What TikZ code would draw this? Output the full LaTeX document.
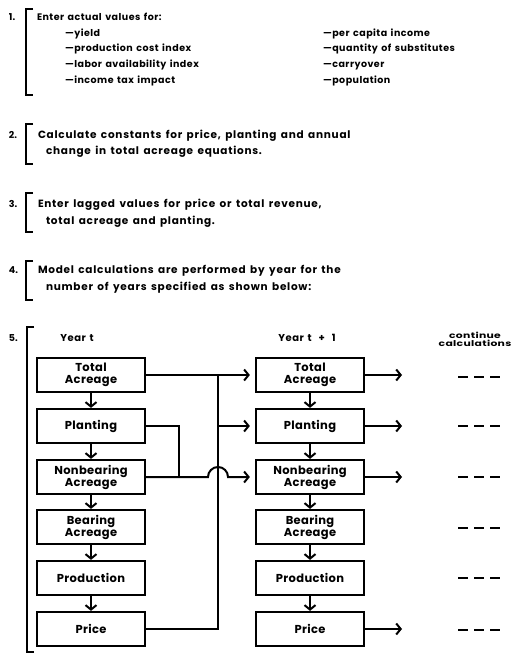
\documentclass[tikz,border=0pt]{standalone}
\usepackage{fontspec}
\setmainfont{Poppins}
\newfontfamily\reffont{Poppins}[LetterSpace=5,WordSpace=1.4]
\newfontfamily\stepfont{Poppins}[LetterSpace=7,WordSpace=1.5]
\newfontfamily\boxfont{Poppins}[LetterSpace=3]
\newfontfamily\widefont{Poppins}[FakeStretch=1.35,LetterSpace=4]
\usetikzlibrary{arrows.meta}
\begin{document}
\begin{tikzpicture}[x=1pt,y=-1pt,line width=2pt,
  box/.style={draw,line width=2.2pt,minimum width=108pt,minimum height=34pt,inner sep=0pt,align=center,font=\boxfont\bfseries\fontsize{11.5}{12}\selectfont},
  arr/.style={-{Straight Barb[length=4.5pt,width=11pt]}},
  txta/.style={anchor=base west,inner sep=0pt,font=\reffont\bfseries\fontsize{9.5}{11}\selectfont},
  txt/.style={anchor=base west,inner sep=0pt,font=\stepfont\bfseries\fontsize{10.5}{11}\selectfont},
  num/.style={anchor=base west,inner sep=0pt,font=\bfseries\fontsize{9.5}{11}\selectfont},
  yr/.style={inner sep=0pt,font=\reffont\bfseries\fontsize{10}{11}\selectfont},
  brk/.style={line width=1.8pt,line join=miter},
  dashln/.style={line width=2.5pt,dash pattern=on 10pt off 6pt}
]
\useasboundingbox (0,0) rectangle (512,655);
% ---- step 1
\node[num] (n1) at (8,20.5) {1.};
\draw[brk] (33,9) -- (26,9) -- (26,95) -- (33,95);
\node[txta] (t1a) at (36,20.5) {Enter actual values for:};
\node[txta] (t1b) at (64,36.5) {\textemdash yield};
\node[txta] (t1c) at (64,52) {\textemdash production cost index};
\node[txta] (t1d) at (64,68) {\textemdash labor availability index};
\node[txta] (t1e) at (64,83.5) {\textemdash income tax impact};
\node[txta] (t1f) at (322,36.5) {\textemdash per capita income};
\node[txta] (t1g) at (322,52) {\textemdash quantity of substitutes};
\node[txta] (t1h) at (322,68) {\textemdash carryover};
\node[txta] (t1i) at (322,83.5) {\textemdash population};
% ---- step 2
\node[num] (n2) at (8,138.5) {2.};
\draw[brk] (33,124) -- (26,124) -- (26,164) -- (33,164);
\node[txt] (t2a) at (37,138.5) {Calculate constants for price, planting and annual};
\node[txt] (t2b) at (45,154.5) {change in total acreage equations.};
% ---- step 3
\node[num] (n3) at (8,207.5) {3.};
\draw[brk] (33,193) -- (26,193) -- (26,232) -- (33,232);
\node[txt] (t3a) at (37,207.5) {Enter lagged values for price or total revenue,};
\node[txt] (t3b) at (45,224) {total acreage and planting.};
% ---- step 4
\node[num] (n4) at (8,273.5) {4.};
\draw[brk] (33,261) -- (26,261) -- (26,300) -- (33,300);
\node[txt] (t4a) at (37,273.5) {Model calculations are performed by year for the};
\node[txt] (t4b) at (45,290.5) {number of years specified as shown below:};
% ---- step 5
\node[num] (n5) at (8,341) {5.};
\draw[brk] (34,327) -- (27,327) -- (27,652) -- (34,652);
\node[yr] (yt) at (77,338) {Year t};
\node[yr] (yt1) at (307,338) {Year t\hspace{7pt}+\hspace{7pt}1};
\node[inner sep=0pt,align=center,font=\widefont\bfseries\fontsize{8}{8.5}\selectfont] (cc) at (475,339.5) {continue\\calculations};
% boxes
\node[box] (L1) at (91,375) {Total\\Acreage};
\node[box] (L2) at (91,426) {Planting};
\node[box] (L3) at (91,477) {Nonbearing\\Acreage};
\node[box] (L4) at (91,527) {Bearing\\Acreage};
\node[box] (L5) at (91,578) {Production};
\node[box] (L6) at (91,629) {Price};
\node[box] (R1) at (310,375) {Total\\Acreage};
\node[box] (R2) at (310,426) {Planting};
\node[box] (R3) at (310,477) {Nonbearing\\Acreage};
\node[box] (R4) at (310,527) {Bearing\\Acreage};
\node[box] (R5) at (310,578) {Production};
\node[box] (R6) at (310,629) {Price};
% vertical arrows
\foreach \c in {L,R}{
  \draw[arr] (\c1.south) -- (\c2.north);
  \draw[arr] (\c2.south) -- (\c3.north);
  \draw[arr] (\c3.south) -- (\c4.north);
  \draw[arr] (\c4.south) -- (\c5.north);
  \draw[arr] (\c5.south) -- (\c6.north);
}
% cross-year links
\coordinate (v1) at (218,375);
\coordinate (v2) at (218,426);
\coordinate (v6) at (218,629);
\coordinate (p1) at (179,426);
\coordinate (p2) at (179,477);
\coordinate (h1) at (208,477);
\draw[arr,shorten >=5pt] (L1.east) -- (R1.west);
\draw (L6.east) -- (v6) -- (v1);
\draw[arr,shorten >=5pt] (v2) -- (R2.west);
\draw (L2.east) -- (p1) -- (p2);
\draw[arr,shorten >=5pt] (L3.east) -- (h1) arc[start angle=180,end angle=0,radius=10pt] -- (R3.west);
% outgoing arrows
\coordinate (e1) at (402,375);
\coordinate (e2) at (402,426);
\coordinate (e3) at (402,477);
\coordinate (e6) at (402,629);
\draw[arr] (R1.east) -- (e1);
\draw[arr] (R2.east) -- (e2);
\draw[arr] (R3.east) -- (e3);
\draw[arr] (R6.east) -- (e6);
% continuation dashes
\foreach \y in {377,426,477,528,578,630}{
  \draw[dashln] (458,\y) -- (500,\y);
}
\end{tikzpicture}
\end{document}
